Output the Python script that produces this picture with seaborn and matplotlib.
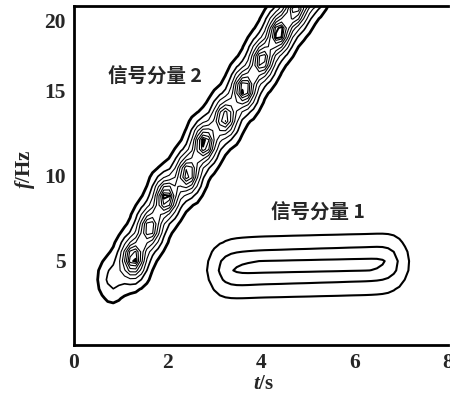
import numpy as np
import matplotlib
matplotlib.use("Agg")
import matplotlib.pyplot as plt
import seaborn as sns

# ---- data ----
# component 2 (chirp): blob centres along the ridge (t [s], f [Hz], relative amplitude)
chirp_t = [0.82, 1.27, 1.62, 1.97, 2.43, 2.79, 3.23, 3.64, 4.02, 4.38, 4.74, 5.10]
chirp_f = [3.9, 5.1, 6.9, 8.7, 10.1, 11.9, 13.4, 15.1, 16.8, 18.4, 19.8, 21.2]
chirp_a = [0.25, 1.0, 0.9, 1.0, 0.95, 1.0, 0.9, 1.0, 0.95, 1.0, 0.9, 1.0]
# component 1 (tone): ridge points
tone_t = [3.2, 3.5, 3.8, 4.1, 4.4, 4.7, 5.0, 5.3, 5.6, 5.9, 6.2, 6.5, 6.8]
tone_f = [4.45, 4.5, 4.55, 4.6, 4.6, 4.65, 4.65, 4.7, 4.7, 4.75, 4.75, 4.8, 4.85]
tone_a = [0.9, 1.0, 1.0, 1.0, 1.0, 1.0, 1.0, 1.0, 1.0, 1.0, 1.0, 1.0, 1.0]

x_ticks = [0, 2, 4, 6, 8]
y_ticks = [5, 10, 15]
label_1 = "信号分量 1"
label_2 = "信号分量 2"

# ---- style ----
sns.set_style("white")
plt.rcParams["font.family"] = ["Liberation Serif", "DejaVu Sans"]
plt.rcParams["mathtext.fontset"] = "custom"
plt.rcParams["mathtext.it"] = "Liberation Serif:italic:bold"
plt.rcParams["mathtext.rm"] = "Liberation Serif:bold"

fig = plt.figure(figsize=(4.5, 3.94), dpi=100)
ax = fig.add_axes([74 / 450, 1 - 345 / 394, 374 / 450, 339 / 394])

# time-frequency grid (coarse, like the original distribution)
tg = np.arange(0, 8.05, 0.12)
fg = np.arange(0, 22.0, 0.55)
T, F = np.meshgrid(tg, fg)

Z2 = np.zeros_like(T)
for t0, f0, a0 in zip(chirp_t, chirp_f, chirp_a):
    Z2 += a0 * np.exp(-((T - t0) ** 2 / (2 * 0.18 ** 2) + (F - f0) ** 2 / (2 * 0.8 ** 2)))
Z2 /= Z2.max()

Z1 = np.zeros_like(T)
for t0, f0, a0 in zip(tone_t, tone_f, tone_a):
    Z1 += a0 * np.exp(-((T - t0) ** 2 / (2 * 0.22 ** 2) + (F - f0) ** 2 / (2 * 0.9 ** 2)))
Z1 /= Z1.max()

ax.contour(T, F, Z2, levels=[0.06, 0.2, 0.35, 0.5, 0.62, 0.73, 0.83, 0.91, 0.97],
           colors="black", linewidths=[2.0, 1.2, 0.8, 0.8, 0.8, 0.8, 0.8, 0.8, 1.4])
ax.contour(T, F, Z1, levels=[0.15, 0.55, 0.93], colors="black",
           linewidths=[1.5, 1.5, 1.5])

ax.set_xlim(0, 8)
ax.set_ylim(0, 20)
ax.set_xticks(x_ticks)
ax.set_yticks(y_ticks)
ax.tick_params(direction="in", length=4, width=1.2, pad=6, labelsize=15.5)
for lab in ax.get_xticklabels() + ax.get_yticklabels():
    lab.set_fontweight("bold")
ax.annotate("20", xy=(0, 20), xycoords=("axes fraction", "data"),
            xytext=(-6, -12), textcoords="offset points",
            ha="right", va="center", fontsize=15.5, fontweight="bold")

for side in ["left", "bottom", "top"]:
    ax.spines[side].set_linewidth(2)
    ax.spines[side].set_color("black")
ax.spines["right"].set_visible(False)

ax.set_xlabel(r"$t$/s", fontsize=15, fontweight="bold")
ax.set_ylabel(r"$f$/Hz", fontsize=15, fontweight="bold")
ax.xaxis.set_label_coords(0.508, -0.085)
ax.yaxis.set_label_coords(-0.1, 0.52)

cjk = ["Noto Sans CJK SC", "DejaVu Sans"]
ax.text(1.74, 15.8, label_2, family=cjk, fontsize=14, fontweight="bold",
        ha="center", va="center")
ax.text(5.21, 7.8, label_1, family=cjk, fontsize=14, fontweight="bold",
        ha="center", va="center")

fig.savefig("out.png", dpi=100)
